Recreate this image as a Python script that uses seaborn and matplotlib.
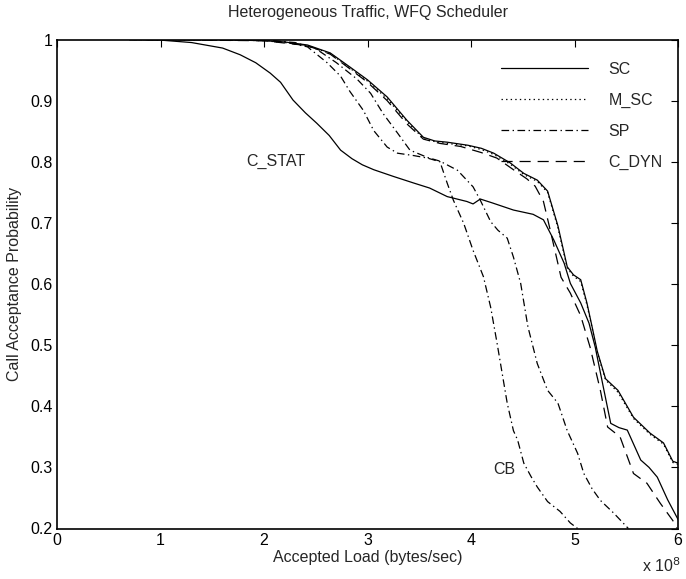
import matplotlib
matplotlib.use("Agg")
import matplotlib.pyplot as plt
import seaborn as sns
import pandas as pd

# ---------------- data (x in units of 1e8 bytes/sec) ----------------
sc_x = [0.7, 1.5, 2.0, 2.2, 2.42, 2.64, 2.83, 3.0, 3.19, 3.38, 3.54, 3.65, 3.77, 3.97, 4.1,
        4.22, 4.38, 4.51, 4.64, 4.74, 4.84, 4.93, 4.99, 5.06, 5.12, 5.17, 5.22, 5.3, 5.42,
        5.57, 5.73, 5.86, 5.95, 6.0]
sc_y = [1.0, 1.0, 0.998, 0.996, 0.991, 0.978, 0.955, 0.934, 0.906, 0.868, 0.840, 0.834, 0.832,
        0.827, 0.822, 0.814, 0.798, 0.781, 0.770, 0.752, 0.695, 0.628, 0.615, 0.607, 0.569,
        0.53, 0.49, 0.445, 0.426, 0.382, 0.356, 0.340, 0.31, 0.307]

msc_x = [0.7, 1.5, 2.0, 2.2, 2.42, 2.64, 2.83, 3.0, 3.19, 3.38, 3.54, 3.65, 3.77, 3.97, 4.1,
         4.22, 4.38, 4.51, 4.64, 4.74, 4.84, 4.93, 4.99, 5.06, 5.12, 5.17, 5.22, 5.3, 5.42,
         5.57, 5.73, 5.86, 5.95, 6.0]
msc_y = [1.0, 1.0, 0.998, 0.995, 0.990, 0.977, 0.953, 0.932, 0.903, 0.866, 0.838, 0.833, 0.830,
         0.826, 0.820, 0.812, 0.796, 0.779, 0.768, 0.750, 0.692, 0.626, 0.613, 0.604, 0.566,
         0.528, 0.488, 0.443, 0.423, 0.380, 0.354, 0.338, 0.308, 0.305]

cstat_x = [0.7, 1.0, 1.3, 1.6, 1.77, 1.92, 2.06, 2.16, 2.28, 2.4, 2.51, 2.63, 2.74, 2.85, 2.95,
           3.06, 3.25, 3.45, 3.6, 3.77, 3.96, 4.02, 4.09, 4.2, 4.41, 4.6, 4.7, 4.8, 4.9, 4.96,
           5.06, 5.14, 5.2, 5.28, 5.35, 5.43, 5.51, 5.64, 5.72, 5.8, 5.9, 6.0]
cstat_y = [1.0, 0.999, 0.995, 0.986, 0.975, 0.962, 0.945, 0.930, 0.901, 0.880, 0.863, 0.843,
           0.819, 0.805, 0.795, 0.787, 0.776, 0.765, 0.757, 0.743, 0.735, 0.731, 0.739, 0.733,
           0.721, 0.714, 0.705, 0.672, 0.634, 0.601, 0.569, 0.536, 0.497, 0.43, 0.372, 0.365,
           0.361, 0.312, 0.300, 0.284, 0.247, 0.215]

cdyn_x = [0.7, 2.0, 2.42, 2.64, 2.83, 3.0, 3.19, 3.38, 3.54, 3.7, 3.9, 4.1, 4.25, 4.41, 4.54,
          4.62, 4.7, 4.77, 4.87, 4.96, 5.06, 5.15, 5.25, 5.32, 5.44, 5.57, 5.7, 5.83, 5.95, 5.99]
cdyn_y = [1.0, 0.998, 0.990, 0.976, 0.952, 0.930, 0.900, 0.862, 0.837, 0.830, 0.825, 0.815,
          0.806, 0.787, 0.772, 0.760, 0.735, 0.685, 0.611, 0.585, 0.548, 0.497, 0.426, 0.366,
          0.350, 0.290, 0.274, 0.241, 0.213, 0.2]

cb_x = [0.7, 2.0, 2.2, 2.42, 2.61, 2.74, 2.83, 2.96, 3.06, 3.19, 3.29, 3.45, 3.58, 3.7, 3.77,
        3.83, 3.93, 4.02, 4.12, 4.19, 4.25, 4.3, 4.35, 4.41, 4.45, 4.51, 4.58, 4.64, 4.74, 4.86,
        4.96, 5.03]
cb_y = [1.0, 0.999, 0.996, 0.988, 0.962, 0.940, 0.915, 0.884, 0.851, 0.824, 0.814, 0.810,
        0.806, 0.800, 0.765, 0.737, 0.699, 0.655, 0.612, 0.562, 0.505, 0.455, 0.405, 0.360,
        0.345, 0.307, 0.285, 0.268, 0.244, 0.228, 0.209, 0.2]

sp_x = [0.7, 2.0, 2.3, 2.5, 2.7, 2.9, 3.03, 3.15, 3.29, 3.41, 3.58, 3.7, 3.87, 4.02, 4.09,
        4.19, 4.26, 4.35, 4.41, 4.48, 4.55, 4.64, 4.74, 4.84, 4.93, 5.03, 5.09, 5.17, 5.25,
        5.38, 5.47, 5.52]
sp_y = [1.0, 0.999, 0.995, 0.985, 0.962, 0.935, 0.912, 0.879, 0.847, 0.819, 0.807, 0.801,
        0.786, 0.759, 0.737, 0.702, 0.688, 0.675, 0.644, 0.601, 0.530, 0.470, 0.426, 0.405,
        0.360, 0.323, 0.290, 0.265, 0.246, 0.225, 0.209, 0.2]

x_ticks = [0, 1, 2, 3, 4, 5, 6]
x_ticklabels = ["0", "1", "2", "3", "4", "5", "6"]
y_ticks = [0.2, 0.3, 0.4, 0.5, 0.6, 0.7, 0.8, 0.9, 1.0]
y_ticklabels = ["0.2", "0.3", "0.4", "0.5", "0.6", "0.7", "0.8", "0.9", "1"]

# ---------------- style ----------------
sns.set_style("white")
plt.rcParams["font.family"] = ["Liberation Sans", "DejaVu Sans"]
plt.rcParams["lines.scale_dashes"] = False
FS = 11.5

fig = plt.figure(figsize=(6.86, 5.79), dpi=100)
ax = fig.add_axes([57 / 686, 1 - 528.5 / 579, 621 / 686, 489 / 579])

series = [
    ("SC", sc_x, sc_y, "-"),
    ("M_SC", msc_x, msc_y, (0, (1.0, 2.3))),
    ("SP", sp_x, sp_y, (0, (5.5, 2.5, 1.0, 2.5))),
    ("C_DYN", cdyn_x, cdyn_y, (0, (8.0, 5.0))),
    ("C_STAT", cstat_x, cstat_y, "-"),
    ("CB", cb_x, cb_y, (0, (5.5, 2.5, 1.0, 2.5))),
]

legend_names = {"SC", "M_SC", "SP", "C_DYN"}
for name, xs, ys, ls in series:
    df = pd.DataFrame({"x": xs, "y": ys})
    sns.lineplot(data=df, x="x", y="y", ax=ax, color="black", linewidth=0.9,
                 linestyle=ls, estimator=None, sort=False,
                 label=name if name in legend_names else None, legend=False)

ax.set_xlim(0, 6)
ax.set_ylim(0.2, 1.0)
ax.set_xticks(x_ticks)
ax.set_xticklabels(x_ticklabels)
ax.set_yticks(y_ticks)
ax.set_yticklabels(y_ticklabels)
ax.tick_params(direction="in", length=5, width=0.8, top=True, right=True,
               labelsize=FS, pad=3, colors="black")
for s in ax.spines.values():
    s.set_color("black")
    s.set_linewidth(1.2)

ax.set_xlabel("Accepted Load (bytes/sec)", fontsize=FS, labelpad=2)
ax.set_ylabel("Call Acceptance Probability", fontsize=FS, labelpad=6)
ax.set_title("Heterogeneous Traffic, WFQ Scheduler", fontsize=FS, pad=16)

ax.text(2.4, 0.8, "C_STAT", fontsize=FS, ha="right", va="center")
ax.text(4.32, 0.297, "CB", fontsize=FS, ha="center", va="center")
fig.text(681 / 686, 1 - 566 / 579, r"x 10$^{8}$", fontsize=FS, ha="right", va="center")

handles, labels = ax.get_legend_handles_labels()
order = ["SC", "M_SC", "SP", "C_DYN"]
hl = dict(zip(labels, handles))
ax.legend([hl[k] for k in order], order, loc="upper right",
          bbox_to_anchor=(0.975, 0.955), frameon=False, fontsize=FS,
          handlelength=5.4, handletextpad=1.3, labelspacing=1.0,
          borderpad=0, borderaxespad=0)

fig.savefig("out.png", dpi=100)
